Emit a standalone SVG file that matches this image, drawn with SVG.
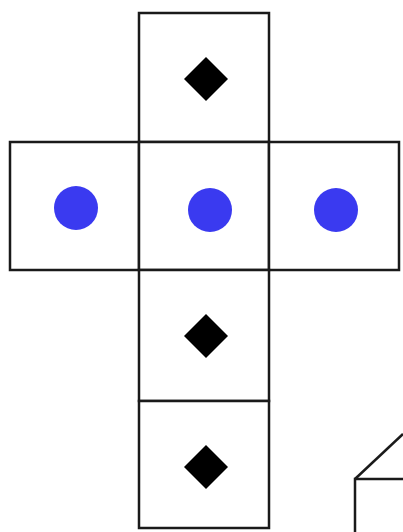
<svg xmlns="http://www.w3.org/2000/svg" width="403" height="532" viewBox="0 0 403 532">
<style>
.face{fill:#ffffff;stroke:#1a1a1a;stroke-width:2.5}
.dot{fill:#3a3af0}
.dia{fill:#000000}
.edge{fill:none;stroke:#1a1a1a;stroke-width:2.5}
</style>
<rect width="403" height="532" fill="#ffffff"/>
<g id="face-top"><rect class="face" x="139" y="13" width="130" height="129"/><polygon class="dia" points="206,57 228,79 206,101 184,79"/></g>
<g id="face-left"><rect class="face" x="10" y="142" width="129" height="128"/><circle class="dot" cx="76" cy="208" r="22"/></g>
<g id="face-center"><rect class="face" x="139" y="142" width="130" height="128"/><circle class="dot" cx="210" cy="210" r="22"/></g>
<g id="face-right"><rect class="face" x="269" y="142" width="130" height="128"/><circle class="dot" cx="336" cy="210" r="22"/></g>
<g id="face-lower"><rect class="face" x="139" y="270" width="130" height="131"/><polygon class="dia" points="206,314 228,336 206,358 184,336"/></g>
<g id="face-bottom"><rect class="face" x="139" y="401" width="130" height="127"/><polygon class="dia" points="206,445 228,467 206,489 184,467"/></g>
<g id="connectors"><polyline class="edge" points="355,532 355,479 403,479"/><line class="edge" x1="355" y1="479" x2="403" y2="434"/></g>
</svg>
